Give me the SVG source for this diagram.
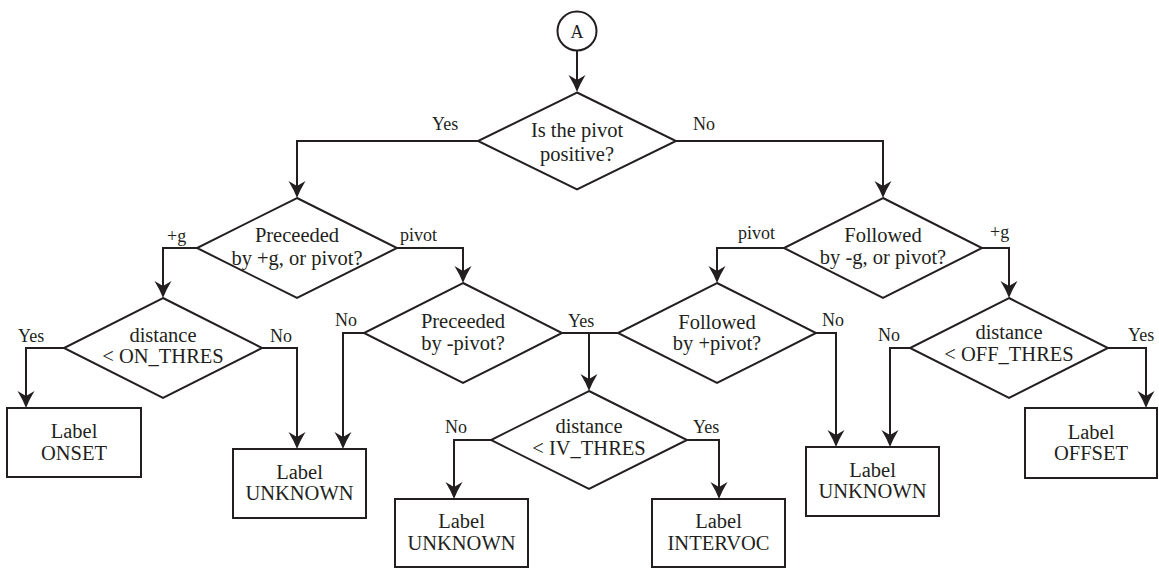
<svg xmlns="http://www.w3.org/2000/svg" width="1159" height="571" viewBox="0 0 1159 571">
  <style>
    .shape { fill: #ffffff; stroke: #231f20; stroke-width: 2; }
    .wire { fill: none; stroke: #231f20; stroke-width: 2; }
    .arrow { marker-end: url(#head); }
    .txt { font-family: "Liberation Serif", "Times New Roman", serif; font-size: 20.5px; fill: #231f20; text-anchor: middle; }
    .lbl { font-family: "Liberation Serif", "Times New Roman", serif; font-size: 18px; fill: #231f20; }
  </style>
  <defs>
    <marker id="head" markerUnits="userSpaceOnUse" markerWidth="20" markerHeight="20" refX="14" refY="0" orient="auto" viewBox="0 -10 20 20" overflow="visible">
      <path d="M17,0 Q9,-3 0,-8.5 L5,0 L0,8.5 Q9,3 17,0 Z" fill="#231f20"/>
    </marker>
  </defs>
  <rect width="1159" height="571" fill="#ffffff"/>

  <!-- connectors -->
  <g id="connectors">
    <path class="wire arrow" d="M577,50 V89"/>
    <path class="wire arrow" d="M478,141 H297 V195"/>
    <path class="wire arrow" d="M676,141 H883 V195"/>
    <path class="wire arrow" d="M197,248 H163 V295"/>
    <path class="wire arrow" d="M397,248 H463 V280"/>
    <path class="wire arrow" d="M64,348 H26 V405"/>
    <path class="wire arrow" d="M262,348 H297 V446"/>
    <path class="wire arrow" d="M364,333 H343 V446"/>
    <path class="wire" d="M562,333 H618"/>
    <path class="wire arrow" d="M589,333 V388"/>
    <path class="wire arrow" d="M816,333 H836 V444"/>
    <path class="wire arrow" d="M784,248 H717 V280"/>
    <path class="wire arrow" d="M982,248 H1009 V295"/>
    <path class="wire arrow" d="M910,348 H890 V444"/>
    <path class="wire arrow" d="M1108,348 H1146 V405"/>
    <path class="wire arrow" d="M491,440 H454 V496"/>
    <path class="wire arrow" d="M687,440 H719 V496"/>

    <text class="lbl" x="432" y="130">Yes</text>
    <text class="lbl" x="693" y="130">No</text>
    <text class="lbl" x="167" y="242">+g</text>
    <text class="lbl" x="400" y="241">pivot</text>
    <text class="lbl" x="738" y="239">pivot</text>
    <text class="lbl" x="990" y="238">+g</text>
    <text class="lbl" x="18" y="342">Yes</text>
    <text class="lbl" x="270" y="342">No</text>
    <text class="lbl" x="335" y="326">No</text>
    <text class="lbl" x="568" y="327">Yes</text>
    <text class="lbl" x="822" y="326">No</text>
    <text class="lbl" x="878" y="341">No</text>
    <text class="lbl" x="1128" y="341">Yes</text>
    <text class="lbl" x="445" y="433">No</text>
    <text class="lbl" x="693" y="433">Yes</text>
  </g>

  <!-- entry connector -->
  <g id="start">
    <circle class="shape" cx="577" cy="31" r="19.5"/>
    <text class="txt" x="577" y="38" style="font-size:18px">A</text>
  </g>

  <!-- decisions -->
  <g id="pivot-positive">
    <polygon class="shape" points="577,92.5 676,141 577,189.5 478,141"/>
    <text class="txt" x="577" y="137">Is the pivot</text>
    <text class="txt" x="577" y="161">positive?</text>
  </g>
  <g id="preceded-g">
    <polygon class="shape" points="297,198 397,248 297,298 197,248"/>
    <text class="txt" x="297" y="242">Preceeded</text>
    <text class="txt" x="297" y="265">by +g, or pivot?</text>
  </g>
  <g id="on-thres">
    <polygon class="shape" points="163,298 262,348 163,398 64,348"/>
    <text class="txt" x="163" y="342">distance</text>
    <text class="txt" x="163" y="363">&lt; ON_THRES</text>
  </g>
  <g id="preceded-pivot">
    <polygon class="shape" points="463,283 562,333 463,383 364,333"/>
    <text class="txt" x="463" y="328">Preceeded</text>
    <text class="txt" x="463" y="350">by -pivot?</text>
  </g>
  <g id="followed-pivot">
    <polygon class="shape" points="717,283 816,333 717,383 618,333"/>
    <text class="txt" x="717" y="329">Followed</text>
    <text class="txt" x="717" y="350">by +pivot?</text>
  </g>
  <g id="followed-g">
    <polygon class="shape" points="883,198 982,248 883,298 784,248"/>
    <text class="txt" x="883" y="242">Followed</text>
    <text class="txt" x="883" y="264">by -g, or pivot?</text>
  </g>
  <g id="off-thres">
    <polygon class="shape" points="1009,298 1108,348 1009,398 910,348"/>
    <text class="txt" x="1009" y="339">distance</text>
    <text class="txt" x="1009" y="361">&lt; OFF_THRES</text>
  </g>
  <g id="iv-thres">
    <polygon class="shape" points="589,391 687,440 589,489 491,440"/>
    <text class="txt" x="589" y="433">distance</text>
    <text class="txt" x="589" y="455">&lt; IV_THRES</text>
  </g>

  <!-- outcomes -->
  <g id="label-onset">
    <rect class="shape" x="7" y="408" width="134" height="69"/>
    <text class="txt" x="74" y="438">Label</text>
    <text class="txt" x="74" y="460">ONSET</text>
  </g>
  <g id="label-unknown-1">
    <rect class="shape" x="233" y="449" width="133" height="69"/>
    <text class="txt" x="299.5" y="479">Label</text>
    <text class="txt" x="299.5" y="500">UNKNOWN</text>
  </g>
  <g id="label-unknown-2">
    <rect class="shape" x="806" y="447" width="133" height="69"/>
    <text class="txt" x="872.5" y="477">Label</text>
    <text class="txt" x="872.5" y="498">UNKNOWN</text>
  </g>
  <g id="label-offset">
    <rect class="shape" x="1025" y="408" width="132" height="70"/>
    <text class="txt" x="1091" y="439">Label</text>
    <text class="txt" x="1091" y="460">OFFSET</text>
  </g>
  <g id="label-unknown-3">
    <rect class="shape" x="395" y="499" width="133" height="68"/>
    <text class="txt" x="461.5" y="528">Label</text>
    <text class="txt" x="461.5" y="550">UNKNOWN</text>
  </g>
  <g id="label-intervoc">
    <rect class="shape" x="652" y="499" width="133" height="68"/>
    <text class="txt" x="718.5" y="528">Label</text>
    <text class="txt" x="718.5" y="550">INTERVOC</text>
  </g>
</svg>
